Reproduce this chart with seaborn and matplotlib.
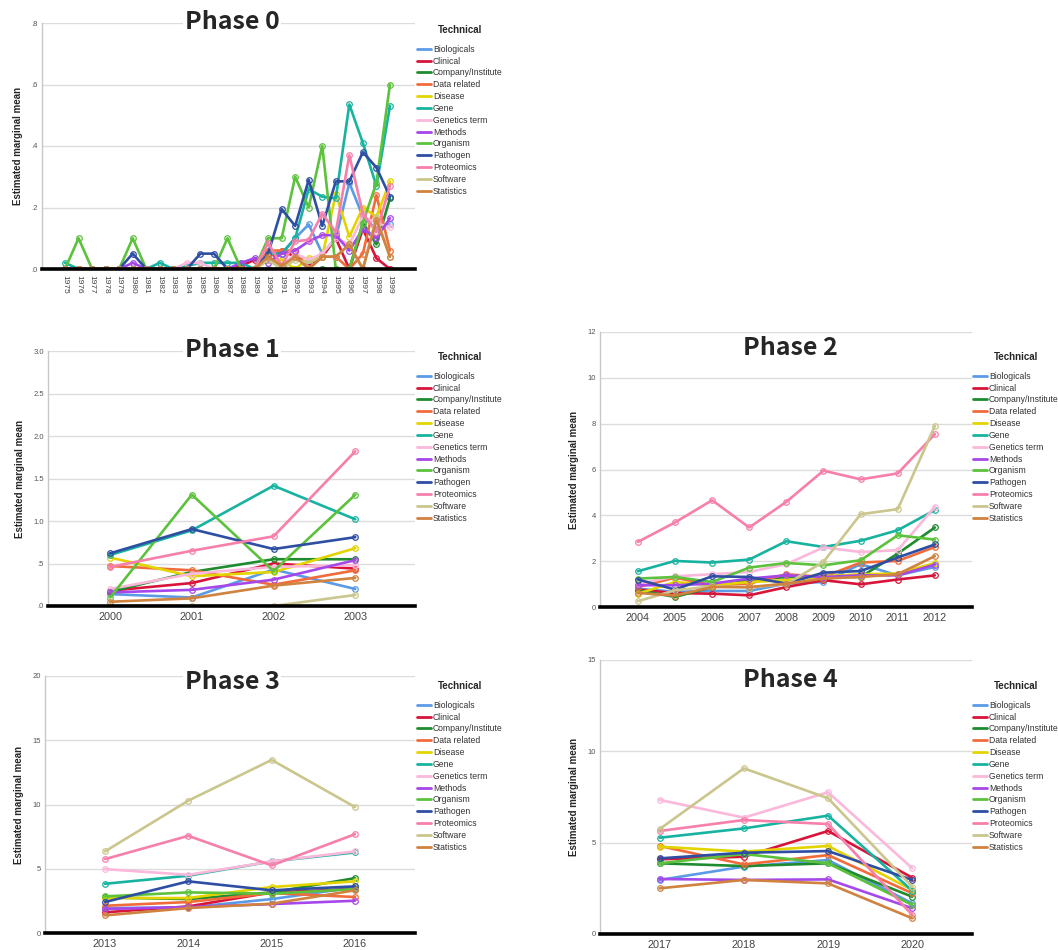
import numpy as np
import pandas as pd
import seaborn as sns
import matplotlib.pyplot as plt
from matplotlib.lines import Line2D

# categories and colours (legend order)
categories = ["Biologicals", "Clinical", "Company/Institute", "Data related", "Disease", "Gene",
              "Genetics term", "Methods", "Organism", "Pathogen", "Proteomics", "Software", "Statistics"]
colors = ["#5b9be6", "#d7153a", "#1e8c2e", "#f26b3a", "#e3d400", "#17b3a0", "#fbb8da",
          "#a548ea", "#5cc23c", "#2e4ea3", "#f77fab", "#cbc68e", "#d0823f"]

# --- Phase 0: 1975-1999 ---
years0 = [1975, 1976, 1977, 1978, 1979, 1980, 1981, 1982, 1983, 1984, 1985, 1986, 1987,
          1988, 1989, 1990, 1991, 1992, 1993, 1994, 1995, 1996, 1997, 1998, 1999]
phase0 = {
    "Biologicals":       [0, 0, 0, 0, 0, 0, 0, 0, 0, 0, 0, 0, 0, 0, 0, .03, .05, .10, .145, .05, .10, .28, .17, .13, .145],
    "Clinical":          [0, 0, 0, 0, 0, 0, 0, 0, 0, 0, 0, 0, 0, .01, .03, .03, .06, .04, .01, .04, .10, 0, .13, .035, 0],
    "Company/Institute": [0, 0, 0, 0, 0, 0, 0, 0, 0, 0, 0, 0, 0, 0, 0, 0, 0, 0, 0, 0, 0, 0, .15, .08, .23],
    "Data related":      [0, 0, 0, 0, 0, 0, 0, 0, 0, 0, 0, 0, 0, 0, 0, .06, .06, .06, 0, .04, .04, 0, .05, .24, .06],
    "Disease":           [0, 0, 0, 0, 0, 0, 0, 0, 0, 0, 0, 0, 0, 0, 0, .03, .03, 0, .035, .04, .245, .105, .20, .17, .285],
    "Gene":              [.02, 0, 0, 0, 0, 0, 0, .02, 0, .01, .02, .02, .02, .02, 0, .05, .05, .10, .26, .235, .23, .535, .41, .27, .53],
    "Genetics term":     [0, 0, 0, 0, 0, 0, 0, 0, 0, .02, .02, 0, 0, 0, 0, .05, .01, .05, .03, .05, .10, .08, .17, .15, .135],
    "Methods":           [0, 0, 0, 0, 0, .02, 0, 0, 0, 0, 0, 0, 0, .02, .035, .02, .05, .06, .09, .11, .11, .06, .13, .10, .165],
    "Organism":          [0, .10, 0, 0, 0, .10, 0, 0, 0, 0, 0, 0, .10, 0, 0, .10, .10, .30, .20, .40, 0, 0, .15, .28, .60],
    "Pathogen":          [0, 0, 0, 0, 0, .05, 0, 0, 0, 0, .05, .05, 0, 0, 0, .05, .195, .14, .29, .14, .285, .285, .38, .33, .235],
    "Proteomics":        [0, 0, 0, 0, 0, 0, 0, 0, 0, 0, 0, 0, 0, 0, 0, .085, .01, .09, .095, .18, .12, .37, .18, .12, .27],
    "Software":          [0, 0, 0, 0, 0, 0, 0, 0, 0, 0, 0, 0, 0, 0, 0, .03, 0, .03, .02, .04, .04, .08, 0, .17, .04],
    "Statistics":        [0, 0, 0, 0, 0, 0, 0, 0, 0, 0, 0, 0, 0, 0, 0, .04, .01, .04, 0, .04, .04, .08, 0, .16, .04],
}

# --- Phase 1: 2000-2003 ---
years1 = [2000, 2001, 2002, 2003]
phase1 = {
    "Biologicals":       [.14, .10, .43, .20],
    "Clinical":          [.18, .27, .50, .44],
    "Company/Institute": [.17, .40, .55, .55],
    "Data related":      [.47, .42, .25, .42],
    "Disease":           [.57, .35, .40, .68],
    "Gene":              [.60, .89, 1.415, 1.02],
    "Genetics term":     [.20, .38, .46, .48],
    "Methods":           [.16, .19, .31, .54],
    "Organism":          [.10, 1.31, .41, 1.31],
    "Pathogen":          [.62, .905, .67, .81],
    "Proteomics":        [.46, .65, .82, 1.82],
    "Software":          [0, 0, 0, .13],
    "Statistics":        [.05, .09, .24, .33],
}

# --- Phase 2: 2004-2012 ---
years2 = [2004, 2005, 2006, 2007, 2008, 2009, 2010, 2011, 2012]
phase2 = {
    "Biologicals":       [.80, .66, .70, .70, 1.02, 1.09, 1.87, 1.38, 1.75],
    "Clinical":          [.76, .61, .58, .51, .87, 1.17, .99, 1.20, 1.38],
    "Company/Institute": [.73, .44, .87, 1.17, 1.31, 1.31, 1.31, 2.33, 3.47],
    "Data related":      [.87, 1.28, .95, 1.02, 1.43, 1.31, 1.94, 2.01, 2.62],
    "Disease":           [.58, 1.09, .95, 1.09, 1.17, 1.34, 1.43, 1.46, 1.92],
    "Gene":              [1.56, 2.01, 1.94, 2.07, 2.87, 2.62, 2.89, 3.35, 4.23],
    "Genetics term":     [1.00, 1.34, 1.43, 1.53, 1.87, 2.60, 2.40, 2.48, 4.37],
    "Methods":           [.95, .95, 1.02, 1.24, 1.38, 1.31, 1.38, 1.38, 1.85],
    "Organism":          [1.24, 1.31, 1.09, 1.72, 1.92, 1.82, 2.04, 3.13, 2.94],
    "Pathogen":          [1.20, .76, 1.34, 1.31, 1.02, 1.50, 1.57, 2.16, 2.73],
    "Proteomics":        [2.84, 3.69, 4.66, 3.47, 4.59, 5.95, 5.57, 5.83, 7.54],
    "Software":          [.25, .73, .90, .85, 1.00, 1.97, 4.05, 4.27, 7.90],
    "Statistics":        [.61, .50, .87, .87, 1.02, 1.24, 1.31, 1.43, 2.22],
}

# --- Phase 3: 2013-2016 ---
years3 = [2013, 2014, 2015, 2016]
phase3 = {
    "Biologicals":       [1.94, 1.99, 2.64, 3.55],
    "Clinical":          [1.61, 2.07, 3.16, 3.42],
    "Company/Institute": [2.77, 2.64, 3.16, 4.27],
    "Data related":      [2.12, 2.41, 3.11, 2.80],
    "Disease":           [2.72, 2.72, 3.58, 4.02],
    "Gene":              [3.83, 4.46, 5.57, 6.27],
    "Genetics term":     [4.97, 4.53, 5.57, 6.35],
    "Methods":           [1.87, 2.02, 2.25, 2.51],
    "Organism":          [2.85, 3.16, 3.06, 3.42],
    "Pathogen":          [2.41, 4.02, 3.32, 3.63],
    "Proteomics":        [5.75, 7.56, 5.26, 7.69],
    "Software":          [6.35, 10.30, 13.47, 9.80],
    "Statistics":        [1.37, 1.94, 2.28, 3.32],
}

# --- Phase 4: 2017-2020 ---
years4 = [2017, 2018, 2019, 2020]
phase4 = {
    "Biologicals":       [2.96, 3.69, 4.05, 1.68],
    "Clinical":          [4.09, 4.23, 5.64, 3.08],
    "Company/Institute": [3.87, 3.72, 3.87, 2.04],
    "Data related":      [4.82, 3.81, 4.32, 2.23],
    "Disease":           [4.78, 4.51, 4.82, 2.41],
    "Gene":              [5.27, 5.78, 6.48, 2.37],
    "Genetics term":     [7.34, 6.37, 7.76, 3.60],
    "Methods":           [3.01, 2.96, 2.99, 1.41],
    "Organism":          [3.87, 4.38, 3.87, 1.59],
    "Pathogen":          [4.14, 4.45, 4.54, 2.96],
    "Proteomics":        [5.64, 6.24, 6.02, 1.04],
    "Software":          [5.75, 9.07, 7.43, 2.59],
    "Statistics":        [2.50, 2.96, 2.77, 0.86],
}

# y tick positions / labels per phase
yt0, yl0 = [0, .2, .4, .6, .8], [".0", ".2", ".4", ".6", ".8"]
yt1, yl1 = [0, .5, 1, 1.5, 2, 2.5, 3], [".0", ".5", "1.0", "1.5", "2.0", "2.5", "3.0"]
yt2, yl2 = [0, 2, 4, 6, 8, 10, 12], ["0", "2", "4", "6", "8", "10", "12"]
yt3, yl3 = [0, 5, 10, 15, 20], ["0", "5", "10", "15", "20"]
yt4, yl4 = [0, 5, 10, 15], ["0", "5", "10", "15"]

sns.set_theme(style="white")
plt.rcParams["font.family"] = ["Liberation Sans", "DejaVu Sans"]

fig = plt.figure(figsize=(10.58, 9.5), dpi=100)
W, H = 1058, 950


def add_ax(left, top, right, bottom):
    return fig.add_axes([left / W, 1 - bottom / H, (right - left) / W, (bottom - top) / H])


palette = dict(zip(categories, colors))

panels = [
    # data, years, yticks, ylabels, ymax, xlim, axes box (px), title pos, legend pos
    (phase0, years0, yt0, yl0, 0.8, (1973.3, 2000.85), (42, 23, 415, 269), (232, 22), (417, 25), "Phase 0"),
    (phase1, years1, yt1, yl1, 3.0, (1999.24, 2003.73), (48, 351, 415, 606), (232, 350), (417, 352), "Phase 1"),
    (phase2, years2, yt2, yl2, 12, (2002.98, 2013.0), (600, 332, 972, 607), (790, 348), (973, 352), "Phase 2"),
    (phase3, years3, yt3, yl3, 20, (2012.28, 2016.72), (45, 676, 415, 933), (232, 682), (417, 681), "Phase 3"),
    (phase4, years4, yt4, yl4, 15, (2016.29, 2020.71), (600, 660, 972, 934), (790, 680), (973, 681), "Phase 4"),
]

for data, years, yt, yl, ymax, xlim, box, tpos, lpos, title in panels:
    ax = add_ax(*box)
    df = pd.DataFrame(data)
    df["Year"] = years
    long = df.melt(id_vars="Year", var_name="Technical", value_name="Mean")
    sns.lineplot(data=long, x="Year", y="Mean", hue="Technical", hue_order=categories,
                 palette=palette, ax=ax, linewidth=1.9, marker="o", markersize=4,
                 markerfacecolor="none", markeredgecolor="auto", markeredgewidth=0.9,
                 legend=False, zorder=2)

    ax.set_xlim(*xlim)
    ax.set_ylim(0, ymax)
    ax.set_yticks(yt, yl)
    if title == "Phase 0":
        ax.set_xticks(years, [str(y) for y in years], rotation=-90, fontsize=6, color="#444444")
    else:
        ax.set_xticks(years, [str(y) for y in years], fontsize=7.8, color="#444444")
    ax.tick_params(axis="y", labelsize=5.5, labelcolor="#555555", length=0, pad=3)
    ax.tick_params(axis="x", length=0, pad=4)
    ax.grid(axis="y", color="#dcdcdc", linewidth=1)
    ax.grid(axis="x", visible=False)
    for s in ["top", "right"]:
        ax.spines[s].set_visible(False)
    ax.spines["left"].set_color("#c8c8c8")
    ax.spines["left"].set_linewidth(1)
    ax.spines["bottom"].set_color("black")
    ax.spines["bottom"].set_linewidth(2.6)
    ax.spines["bottom"].set_zorder(3)
    ax.set_xlabel("")
    ax.set_ylabel("Estimated marginal mean", fontsize=7, fontweight="bold", labelpad=6)

    handles = [Line2D([0], [0], color=c, lw=2) for c in colors]
    leg = ax.legend(handles, categories, title="Technical", loc="upper left",
                    bbox_to_anchor=(lpos[0] / W, 1 - lpos[1] / H), bbox_transform=fig.transFigure,
                    frameon=False, fontsize=6.2, title_fontsize=7, handlelength=1.6,
                    handletextpad=0.25, labelspacing=0.33, borderaxespad=0, borderpad=0)
    leg.get_title().set_fontweight("bold")
    leg._legend_box.sep = 7  # extra gap between title and entries
    for t in leg.get_texts():
        t.set_color("#333333")

    fig.text(tpos[0] / W, 1 - tpos[1] / H, title, ha="center", va="center", fontsize=18,
             fontweight="bold", family=["Noto Sans CJK KR", "DejaVu Sans"],
             bbox=dict(facecolor="white", edgecolor="none", pad=1))

fig.savefig("out.png", dpi=100)
